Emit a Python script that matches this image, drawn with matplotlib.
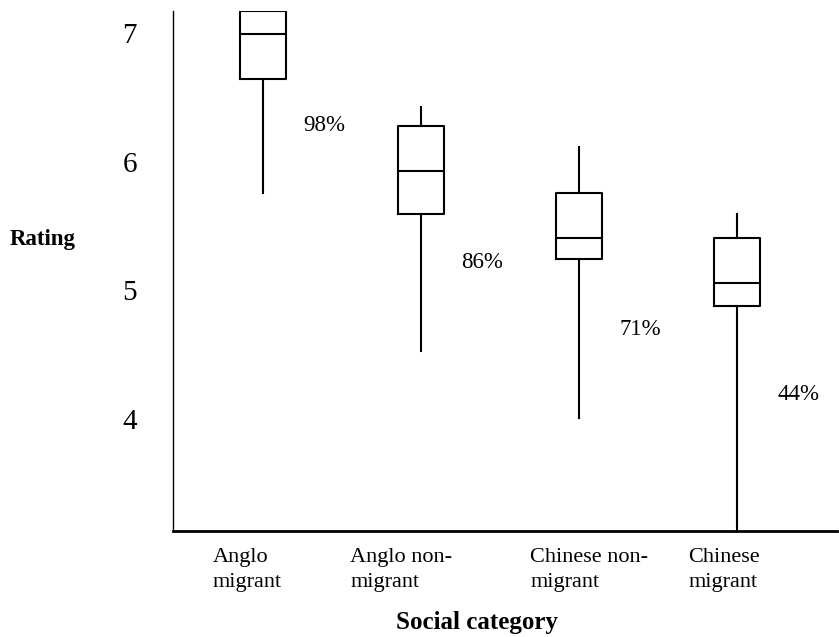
#Box plot of ratings by social category, with the percentage beside each box.

import numpy as np
from matplotlib import pyplot as plt

plt.rcParams['font.family'] = 'Liberation Serif'

#Categories and the box statistics
categories = ['Anglo\nmigrant', 'Anglo non-\nmigrant', 'Chinese non-\nmigrant', 'Chinese\nmigrant']
whisker_low = [5.76, 4.53, 4.01, 3.13]
q1 = [6.64, 5.59, 5.24, 4.88]
median = [6.99, 5.93, 5.41, 5.06]
q3 = [7.17, 6.28, 5.76, 5.41]
whisker_high = [7.17, 6.42, 6.11, 5.59]

#Percentage labels and where they sit on the rating scale
percent_labels = ['98%', '86%', '71%', '44%']
percent_y = [6.28, 5.22, 4.70, 4.19]

y_ticks = [4, 5, 6, 7]

positions = np.arange(1, len(categories) + 1)

fig = plt.figure(figsize=(8.39, 6.37), dpi=100)
ax = fig.add_axes([0.2062, 0.1664, 0.7914, 0.8163])

#Build the stats that bxp needs from the lists above
stats = []
for i in range(len(categories)):
    stats.append({'med': median[i], 'q1': q1[i], 'q3': q3[i],
                  'whislo': whisker_low[i], 'whishi': whisker_high[i],
                  'fliers': []})

line_style = dict(color='black', linewidth=1.5)
ax.bxp(stats, positions=positions, widths=0.29, showcaps=False, showfliers=False,
       boxprops=line_style, medianprops=line_style, whiskerprops=line_style)

#Percent labels to the right of each box
for i, label in enumerate(percent_labels):
    ax.text(positions[i] + 0.385, percent_y[i], label, fontsize=16.5,
            ha='center', va='center')

ax.set_xlim(0.43, 4.63)
ax.set_ylim(3.132, 7.169)
ax.set_yticks(y_ticks)
ax.set_yticklabels([str(t) for t in y_ticks], fontsize=21)
ax.tick_params(axis='y', length=0, pad=26)
ax.set_xticks([])

ax.spines['top'].set_visible(False)
ax.spines['right'].set_visible(False)
ax.spines['left'].set_linewidth(1.0)
ax.spines['bottom'].set_linewidth(2.0)

#Category names, left aligned below the axis
label_offsets = [-0.32, -0.45, -0.31, -0.31]
for i, name in enumerate(categories):
    ax.text(positions[i] + label_offsets[i], -0.032, name, fontsize=16,
            ha='left', va='top', linespacing=1.45,
            transform=ax.get_xaxis_transform())

fig.text(477 / 839, 1 - 623 / 637, 'Social category', fontsize=18,
         fontweight='bold', ha='center', va='center')
fig.text(10 / 839, 1 - 239 / 637, 'Rating', fontsize=16.5,
         fontweight='bold', ha='left', va='center')

plt.savefig('out.png', dpi=100)
